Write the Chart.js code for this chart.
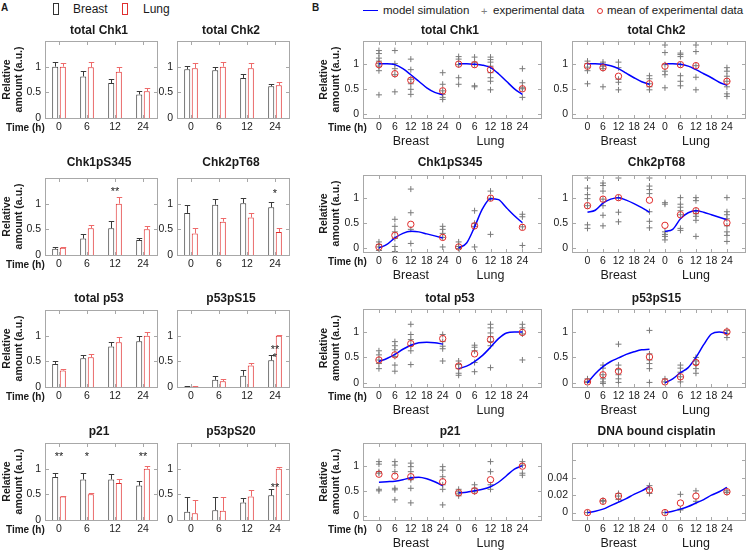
<!DOCTYPE html>
<html><head><meta charset="utf-8">
<script src="https://cdn.jsdelivr.net/npm/chart.js@4.4.0/dist/chart.umd.min.js"></script>
<style>
html,body{margin:0;padding:0;background:#fff;}
body{width:750px;height:554px;position:relative;overflow:hidden;font-family:'Liberation Sans',Arial,sans-serif;color:#1a1a1a;}
canvas{position:absolute;}
.t{position:absolute;white-space:nowrap;line-height:1;transform:translateY(-50%);}
.mk{position:absolute;box-sizing:border-box;}
</style></head><body>
<div class="t" style="left:1px;top:8px;font-weight:bold;font-size:10px;">A</div>
<div class="mk" style="left:53px;top:3px;width:6px;height:12px;border:1.5px solid #333;"></div>
<div class="t" style="left:73px;top:9px;font-size:12px;">Breast</div>
<div class="mk" style="left:122px;top:3px;width:6px;height:12px;border:1.5px solid #e03030;"></div>
<div class="t" style="left:143px;top:9px;font-size:12px;">Lung</div>
<div class="t" style="left:312px;top:8px;font-weight:bold;font-size:10px;">B</div>
<div class="mk" style="left:363px;top:10px;width:15px;height:0;border-top:1.5px solid #0000ff;"></div>
<div class="t" style="left:383px;top:11px;font-size:11.5px;">model simulation</div>
<div class="t" style="left:481px;top:11px;font-size:11px;color:#808080;">+</div>
<div class="t" style="left:493px;top:11px;font-size:11.5px;">experimental data</div>
<div class="mk" style="left:597px;top:8px;width:6px;height:6px;border:1px solid #e03030;border-radius:50%;"></div>
<div class="t" style="left:607px;top:11px;font-size:11.5px;">mean of experimental data</div>
<script>
// ================= DATA =================
// Panel A: bar charts (mean and upper error), time points
const barTimes = ['0', '6', '12', '24'];
const yTicksA = [0, 0.5, 1];
const yTickLabelsA = ['0', '0.5', '1'];

const chk1BarBreast = [1.0, 0.81, 0.68, 0.46];
const chk1BarBreastErr = [0.1, 0.11, 0.08, 0.07];
const chk1BarLung = [1.0, 0.99, 0.9, 0.52];
const chk1BarLungErr = [0.07, 0.1, 0.09, 0.07];
const chk1BarStars = ['', '', '', ''];

const chk2BarBreast = [0.95, 0.93, 0.78, 0.62];
const chk2BarBreastErr = [0.07, 0.07, 0.08, 0.04];
const chk2BarLung = [0.97, 1.0, 0.97, 0.64];
const chk2BarLungErr = [0.1, 0.09, 0.1, 0.06];
const chk2BarStars = ['', '', '', ''];

const chk1pBarBreast = [0.12, 0.32, 0.52, 0.29];
const chk1pBarBreastErr = [0.03, 0.08, 0.14, 0.05];
const chk1pBarLung = [0.14, 0.52, 1.0, 0.5];
const chk1pBarLungErr = [0.02, 0.07, 0.13, 0.07];
const chk1pBarStars = ['', '', '**', ''];

const chk2pBarBreast = [0.82, 0.98, 1.01, 0.93];
const chk2pBarBreastErr = [0.16, 0.12, 0.1, 0.1];
const chk2pBarLung = [0.42, 0.65, 0.73, 0.45];
const chk2pBarLungErr = [0.11, 0.08, 0.08, 0.08];
const chk2pBarStars = ['', '', '', '*'];

const p53BarBreast = [0.45, 0.56, 0.79, 0.89];
const p53BarBreastErr = [0.05, 0.07, 0.09, 0.11];
const p53BarLung = [0.32, 0.58, 0.87, 1.0];
const p53BarLungErr = [0.04, 0.06, 0.1, 0.08];
const p53BarStars = ['', '', '', ''];

const p53s15BarBreast = [0.01, 0.14, 0.22, 0.52];
const p53s15BarBreastErr = [0.005, 0.07, 0.12, 0.1];
const p53s15BarLung = [0.01, 0.11, 0.42, 1.0];
const p53s15BarLungErr = [0.005, 0.05, 0.05, 0.02];
const p53s15BarStars = ['', '', '', '**|*'];

const p21BarBreast = [0.84, 0.79, 0.79, 0.67];
const p21BarBreastErr = [0.08, 0.13, 0.1, 0.09];
const p21BarLung = [0.46, 0.5, 0.72, 1.0];
const p21BarLungErr = [0.01, 0.02, 0.07, 0.05];
const p21BarStars = ['**', '*', '', '**'];

const p53s20BarBreast = [0.16, 0.19, 0.34, 0.48];
const p53s20BarBreastErr = [0.29, 0.26, 0.09, 0.12];
const p53s20BarLung = [0.13, 0.18, 0.46, 1.0];
const p53s20BarLungErr = [0.26, 0.27, 0.12, 0.04];
const p53s20BarStars = ['', '', '', '**'];

// Panel B: model simulation + experimental data
const modelTimes = [0, 3, 6, 9, 12, 15, 18, 21, 24];
const sampleTimes = [0, 6, 12, 24];
const axisTimes = [0, 6, 12, 18, 24];
const yTicksB = [0, 0.5, 1];
const yTickLabelsB = ['0', '0.5', '1'];
const yTicksDNA = [0, 0.02, 0.04, 0.06];
const yTickLabelsDNA = ['0', '0.02', '0.04', ''];

const chk1ModelBreast = [1.0, 1.0, 0.98, 0.9, 0.78, 0.65, 0.52, 0.43, 0.38];
const chk1ModelLung = [1.0, 1.0, 0.99, 0.97, 0.92, 0.8, 0.65, 0.5, 0.39];
const chk1PtsBreast = [[1.26, 1.2, 1.11, 1.05, 1.0, 0.95, 0.86, 0.38], [1.26, 1.0, 0.9, 0.78, 0.44], [1.09, 0.88, 0.69, 0.6, 0.49, 0.39], [0.82, 0.59, 0.46, 0.39, 0.33, 0.29]];
const chk1PtsLung = [[1.14, 1.09, 0.98, 0.72, 0.59], [1.13, 1.03, 0.98, 0.56, 0.54], [1.13, 1.08, 1.03, 0.95, 0.82, 0.72, 0.65, 0.48], [0.9, 0.62, 0.52, 0.5, 0.33]];
const chk1MeanBreast = [0.98, 0.8, 0.67, 0.46];
const chk1MeanLung = [0.99, 0.98, 0.88, 0.5];

const chk2ModelBreast = [1.0, 1.0, 0.99, 0.96, 0.9, 0.81, 0.72, 0.64, 0.59];
const chk2ModelLung = [1.0, 1.0, 0.99, 0.95, 0.88, 0.8, 0.72, 0.63, 0.57];
const chk2PtsBreast = [[1.05, 1.0, 0.93, 0.86, 0.6], [1.03, 0.99, 0.95, 0.9, 0.54], [1.03, 0.92, 0.69, 0.63, 0.48], [0.76, 0.7, 0.6, 0.54, 0.48]];
const chk2PtsLung = [[1.37, 1.22, 0.98, 0.85, 0.78, 0.52], [1.21, 1.18, 1.14, 0.98, 0.76, 0.65, 0.56], [1.37, 1.24, 0.96, 0.73, 0.48], [0.92, 0.85, 0.75, 0.65, 0.54, 0.4, 0.35]];
const chk2MeanBreast = [0.95, 0.92, 0.75, 0.6];
const chk2MeanLung = [0.95, 0.98, 0.96, 0.65];

const chk1pModelBreast = [0.0, 0.07, 0.2, 0.29, 0.33, 0.32, 0.28, 0.24, 0.2];
const chk1pModelLung = [0.0, 0.1, 0.42, 0.78, 0.98, 0.96, 0.8, 0.64, 0.5];
const chk1pPtsBreast = [[0.12, 0.07, 0.02, -0.05], [0.57, 0.43, 0.32, 0.19, 0.03, -0.07], [1.17, 0.7, 0.37, 0.09], [0.43, 0.37, 0.29, 0.21, 0.02]];
const chk1pPtsLung = [[0.12, 0.03, -0.01], [0.74, 0.49, 0.43, 0.02], [1.13, 0.99, 0.27], [0.67, 0.62, 0.42, 0.05]];
const chk1pMeanBreast = [0.02, 0.25, 0.47, 0.21];
const chk1pMeanLung = [0.02, 0.44, 0.99, 0.41];

const chk2pModelBreast = [0.71, 0.75, 0.89, 0.97, 1.0, 0.95, 0.88, 0.8, 0.71];
const chk2pModelLung = [0.33, 0.37, 0.58, 0.7, 0.74, 0.71, 0.66, 0.61, 0.56];
const chk2pPtsBreast = [[1.39, 1.19, 1.06, 0.98, 0.84, 0.46, 0.39], [1.29, 1.24, 1.13, 0.97, 0.84, 0.65, 0.44], [1.39, 1.0, 0.71, 0.52], [1.39, 1.23, 1.16, 1.08, 0.72, 0.53, 0.4]];
const chk2pPtsLung = [[0.9, 0.87, 0.32, 0.27, 0.23, 0.16], [1.0, 0.87, 0.81, 0.74, 0.66, 0.39, 0.35], [1.0, 0.94, 0.74, 0.68, 0.63, 0.55, 0.23], [1.0, 0.72, 0.66, 0.58, 0.44, 0.32, 0.25, 0.13]];
const chk2pMeanBreast = [0.84, 0.97, 1.0, 0.95];
const chk2pMeanLung = [0.45, 0.66, 0.74, 0.5];

const p53ModelBreast = [0.42, 0.48, 0.56, 0.66, 0.74, 0.79, 0.8, 0.79, 0.76];
const p53ModelLung = [0.28, 0.33, 0.42, 0.54, 0.7, 0.87, 0.98, 1.0, 1.0];
const p53PtsBreast = [[0.63, 0.55, 0.45, 0.38, 0.28], [0.81, 0.73, 0.65, 0.52, 0.35, 0.23], [1.15, 0.95, 0.85, 0.73, 0.63, 0.36], [0.95, 0.81, 0.72, 0.67, 0.43]];
const p53PtsLung = [[0.43, 0.36, 0.28, 0.19, 0.15], [0.74, 0.7, 0.63, 0.4, 0.22], [1.15, 1.08, 0.98, 0.91, 0.81, 0.73, 0.3], [1.15, 1.08, 0.96, 0.45]];
const p53MeanBreast = [0.45, 0.55, 0.77, 0.87];
const p53MeanLung = [0.33, 0.57, 0.85, 0.99];

const p53s15ModelBreast = [0.0, 0.18, 0.32, 0.42, 0.49, 0.56, 0.61, 0.65, 0.66];
const p53s15ModelLung = [0.0, 0.08, 0.2, 0.3, 0.5, 0.75, 0.96, 1.0, 0.97];
const p53s15PtsBreast = [[0.08, 0.03, 0.01], [0.35, 0.29, 0.16, 0.08, 0.02, -0.01], [0.76, 0.35, 0.26, 0.16, 0.08, 0.01], [1.03, 0.57, 0.45, 0.38, 0.28, 0.01]];
const p53s15PtsLung = [[0.08, 0.02], [0.35, 0.29, 0.21, 0.12, 0.02], [0.5, 0.43, 0.36, 0.28, 0.19], [1.03, 0.97, 0.89]];
const p53s15MeanBreast = [0.02, 0.16, 0.23, 0.51];
const p53s15MeanLung = [0.02, 0.12, 0.4, 1.0];

const p21ModelBreast = [0.67, 0.68, 0.69, 0.72, 0.76, 0.77, 0.74, 0.68, 0.6];
const p21ModelLung = [0.46, 0.47, 0.5, 0.53, 0.58, 0.67, 0.8, 0.93, 1.0];
const p21PtsBreast = [[1.08, 1.03, 0.88, 0.85, 0.53, 0.5], [1.08, 1.01, 0.88, 0.55, 0.52, 0.32], [1.05, 0.98, 0.88, 0.75, 0.72, 0.55, 0.26], [0.98, 0.91, 0.78, 0.62, 0.53, 0.22]];
const p21PtsLung = [[0.53, 0.48, 0.44, 0.4], [0.62, 0.55, 0.48], [1.08, 0.88, 0.62, 0.53], [1.08, 1.01, 0.85, 0.81]];
const p21MeanBreast = [0.83, 0.79, 0.78, 0.68];
const p21MeanLung = [0.46, 0.5, 0.72, 0.99];

const dnaModelBreast = [0.0, 0.0015, 0.004, 0.008, 0.012, 0.016, 0.021, 0.025, 0.03];
const dnaModelLung = [0.0, 0.0015, 0.004, 0.007, 0.011, 0.015, 0.02, 0.024, 0.029];
const dnaPtsBreast = [[0.0], [0.014, 0.013], [0.022, 0.019, 0.015], [0.031, 0.027, 0.022]];
const dnaPtsLung = [[0.0], [0.021, 0.004, 0.003], [0.025, 0.013], [0.025, 0.023]];
const dnaMeanBreast = [0.0, 0.013, 0.019, 0.026];
const dnaMeanLung = [0.0, 0.011, 0.019, 0.024];

// ================= LAYOUT / STYLE =================
const FONT = "'Liberation Sans', Arial, Helvetica, sans-serif";
const TXT = '#1a1a1a';
const BOXC = '#a8a8a8';
const DARK = '#3a3a3a';
const REDB = '#e02a2a';
const REDE = '#ee6a6a';
const BLUE = '#0000ff';
const GREY = '#7a7a7a';
const LUNG_SHIFT = 30;
Chart.defaults.font.family = FONT;
Chart.defaults.color = TXT;

const colA = [{l: 45, r: 157, Ly: 45, ytitle: true, time: 6}, {l: 177, r: 289, Ly: 22, ytitle: false}];
const rowA = [{t: 41, b: 118, ty: 31}, {t: 178, b: 255, ty: 163}, {t: 310, b: 387, ty: 299}, {t: 443, b: 520, ty: 432}];
const colB = [{l: 363, r: 541, Ly: 46, ytitle: true, time: 328, Lr: 6}, {l: 572, r: 749, Ly: 36, ytitle: false, Lr: 1}];
const rowB = [{t: 41, b: 118, ty: 31}, {t: 175, b: 252, ty: 163}, {t: 309, b: 387, ty: 299}, {t: 443, b: 520, ty: 432}];

function makeCanvas(left, top, w, h) {
  const cv = document.createElement('canvas');
  cv.width = w; cv.height = h;
  cv.style.left = left + 'px'; cv.style.top = top + 'px';
  cv.style.width = w + 'px'; cv.style.height = h + 'px';
  document.body.appendChild(cv);
  return cv;
}

function extrasPlugin(sp) {
  return {
    id: 'extras',
    afterDatasetsDraw(chart) {
      if (!sp.errs) return;
      const ctx = chart.ctx, y = chart.scales.y;
      ctx.save();
      [0, 1].forEach(di => {
        const meta = chart.getDatasetMeta(di);
        ctx.strokeStyle = sp.errColors[di];
        ctx.lineWidth = 1;
        ctx.beginPath();
        meta.data.forEach((bar, i) => {
          const x = Math.round(bar.x) + 0.5;
          const yTop = Math.round(y.getPixelForValue(sp.vals[di][i] + sp.errs[di][i])) + 0.5;
          const hw = bar.width * 0.45;
          ctx.moveTo(x, bar.y); ctx.lineTo(x, yTop);
          ctx.moveTo(x - hw, yTop); ctx.lineTo(x + hw, yTop);
        });
        ctx.stroke();
      });
      ctx.restore();
    },
    afterDraw(chart) {
      const {ctx, chartArea: ca} = chart;
      const xs = chart.scales.x, ys = chart.scales.y;
      ctx.save();
      ctx.strokeStyle = BOXC; ctx.lineWidth = 1;
      ctx.strokeRect(ca.left + 0.5, ca.top + 0.5, ca.right - ca.left, ca.bottom - ca.top);
      const tl = 3;
      ctx.beginPath();
      xs.ticks.forEach((t, i) => {
        const px = Math.round(xs.getPixelForTick(i)) + 0.5;
        ctx.moveTo(px, ca.bottom); ctx.lineTo(px, ca.bottom - tl);
        ctx.moveTo(px, ca.top + 1); ctx.lineTo(px, ca.top + 1 + tl);
      });
      ys.ticks.forEach(t => {
        const py = Math.round(ys.getPixelForValue(t.value)) + 0.5;
        ctx.moveTo(ca.left + 1, py); ctx.lineTo(ca.left + 1 + tl, py);
        ctx.moveTo(ca.right, py); ctx.lineTo(ca.right - tl, py);
      });
      ctx.stroke();
      ctx.fillStyle = TXT;
      ctx.textAlign = 'center'; ctx.textBaseline = 'middle';
      ctx.font = 'bold 12px ' + FONT;
      ctx.fillText(sp.title, (ca.left + ca.right) / 2 - 2, sp.titleY - sp.top);
      if (sp.timeX !== undefined) {
        ctx.textAlign = 'left';
        ctx.font = 'bold 10px ' + FONT;
        ctx.fillText('Time (h)', sp.timeX - sp.left, ca.bottom + 10);
      }
      if (sp.groups) {
        ctx.textAlign = 'center';
        ctx.font = '12.5px ' + FONT;
        ctx.fillText('Breast', xs.getPixelForValue(12), ca.bottom + 24);
        ctx.fillText('Lung', xs.getPixelForValue(12 + LUNG_SHIFT), ca.bottom + 24);
      }
      if (sp.stars) {
        ctx.textAlign = 'center';
        ctx.font = '11px ' + FONT;
        sp.stars.forEach((s, i) => {
          if (!s) return;
          const lines = s.split('|');
          const px = xs.getPixelForValue(i);
          lines.forEach((ln, k) => {
            const py = ys.getPixelForValue(sp.starLevel) + 4 + k * 8;
            ctx.fillText(ln, px, py);
          });
        });
      }
      ctx.restore();
    }
  };
}

function yTitle(show, pad) {
  return {display: show, text: ['Relative', 'amount (a.u.)'], font: {size: 10.5, weight: 'bold', lineHeight: 1.15}, color: TXT, padding: {top: pad, bottom: 0}};
}

function barPanel(title, col, row, breast, breastErr, lung, lungErr, stars, starLevel) {
  const c = colA[col], r = rowA[row];
  const Lt = 22, Lr = 4, Lb = 20;
  const left = c.l - c.Ly, top = r.t - Lt;
  const w = c.r - c.l + c.Ly + Lr, h = r.b - r.t + Lt + Lb;
  const cv = makeCanvas(left, top, w, h);
  const sp = {title, titleY: r.ty, left, top, vals: [breast, lung], errs: [breastErr, lungErr],
    errColors: [DARK, REDE], stars, starLevel, timeX: c.time};
  const dsBase = {backgroundColor: '#ffffff', borderWidth: 1, categoryPercentage: 0.54, barPercentage: 0.8};
  new Chart(cv, {
    type: 'bar',
    data: {labels: barTimes, datasets: [
      Object.assign({label: 'Breast', data: breast, borderColor: DARK}, dsBase),
      Object.assign({label: 'Lung', data: lung, borderColor: REDB}, dsBase)
    ]},
    options: {
      responsive: false, animation: false, devicePixelRatio: 1,
      layout: {padding: {top: Lt, right: Lr, left: 0, bottom: 0}},
      plugins: {legend: {display: false}, tooltip: {enabled: false}},
      scales: {
        x: {grid: {display: false, drawTicks: false}, border: {display: false},
            ticks: {font: {size: 10.5}, color: TXT, padding: 3, maxRotation: 0, autoSkip: false},
            afterFit(s) { s.height = Lb; }},
        y: {min: 0, max: 1.5, grid: {display: false, drawTicks: false}, border: {display: false},
            afterBuildTicks(s) { s.ticks = yTicksA.map(v => ({value: v})); },
            ticks: {font: {size: 10.5}, color: TXT, padding: 4, callback: (v, i) => yTickLabelsA[i]},
            title: yTitle(c.ytitle, 1),
            afterFit(s) { s.width = c.Ly; }}
      }
    },
    plugins: [extrasPlugin(sp)]
  });
}

function linePanel(title, col, row, mB, mL, ptsB, ptsL, meanB, meanL, yMin, yMax, yTicks, yLabels) {
  const c = colB[col], r = rowB[row];
  const Lt = 22, Lr = c.Lr, Lb = 34;
  const left = c.l - c.Ly, top = r.t - Lt;
  const w = c.r - c.l + c.Ly + Lr, h = r.b - r.t + Lt + Lb;
  const cv = makeCanvas(left, top, w, h);
  const sp = {title, titleY: r.ty, left, top, groups: true, timeX: c.time};
  const xTickVals = axisTimes.concat(axisTimes.map(t => t + LUNG_SHIFT));
  const xTickLabels = axisTimes.concat(axisTimes).map(String);
  const pts = [];
  sampleTimes.forEach((t, i) => ptsB[i].forEach(v => pts.push({x: t, y: v})));
  sampleTimes.forEach((t, i) => ptsL[i].forEach(v => pts.push({x: t + LUNG_SHIFT, y: v})));
  const means = sampleTimes.map((t, i) => ({x: t, y: meanB[i]}))
    .concat(sampleTimes.map((t, i) => ({x: t + LUNG_SHIFT, y: meanL[i]})));
  const lineDs = (arr, shift) => ({data: modelTimes.map((t, i) => ({x: t + shift, y: arr[i]})), showLine: true,
    borderColor: BLUE, borderWidth: 1.5, pointRadius: 0, cubicInterpolationMode: 'monotone', order: 1, fill: false});
  new Chart(cv, {
    type: 'scatter',
    data: {datasets: [
      {data: means, pointStyle: 'circle', pointRadius: 3.2, borderColor: REDB, backgroundColor: 'rgba(0,0,0,0)', borderWidth: 1, order: 0},
      lineDs(mB, 0), lineDs(mL, LUNG_SHIFT),
      {data: pts, pointStyle: 'cross', pointRadius: 3, borderColor: GREY, borderWidth: 1, order: 2}
    ]},
    options: {
      responsive: false, animation: false, devicePixelRatio: 1,
      layout: {padding: {top: Lt, right: Lr, left: 0, bottom: 0}},
      plugins: {legend: {display: false}, tooltip: {enabled: false}},
      scales: {
        x: {type: 'linear', min: -6, max: 61, grid: {display: false, drawTicks: false}, border: {display: false},
            afterBuildTicks(s) { s.ticks = xTickVals.map(v => ({value: v})); },
            ticks: {font: {size: 10.5}, color: TXT, padding: 3, maxRotation: 0, autoSkip: false, callback: (v, i) => xTickLabels[i]},
            afterFit(s) { s.height = Lb; }},
        y: {min: yMin, max: yMax, grid: {display: false, drawTicks: false}, border: {display: false},
            afterBuildTicks(s) { s.ticks = yTicks.map(v => ({value: v})); },
            ticks: {font: {size: 10.5}, color: TXT, padding: 4, callback: (v, i) => yLabels[i]},
            title: yTitle(c.ytitle, 1),
            afterFit(s) { s.width = c.Ly; }}
      }
    },
    plugins: [extrasPlugin(sp)]
  });
}

// ================= BUILD =================
barPanel('total Chk1', 0, 0, chk1BarBreast, chk1BarBreastErr, chk1BarLung, chk1BarLungErr, chk1BarStars, 1.3);
barPanel('total Chk2', 1, 0, chk2BarBreast, chk2BarBreastErr, chk2BarLung, chk2BarLungErr, chk2BarStars, 1.3);
barPanel('Chk1pS345', 0, 1, chk1pBarBreast, chk1pBarBreastErr, chk1pBarLung, chk1pBarLungErr, chk1pBarStars, 1.3);
barPanel('Chk2pT68', 1, 1, chk2pBarBreast, chk2pBarBreastErr, chk2pBarLung, chk2pBarLungErr, chk2pBarStars, 1.27);
barPanel('total p53', 0, 2, p53BarBreast, p53BarBreastErr, p53BarLung, p53BarLungErr, p53BarStars, 1.3);
barPanel('p53pS15', 1, 2, p53s15BarBreast, p53s15BarBreastErr, p53s15BarLung, p53s15BarLungErr, p53s15BarStars, 0.8);
barPanel('p21', 0, 3, p21BarBreast, p21BarBreastErr, p21BarLung, p21BarLungErr, p21BarStars, 1.3);
barPanel('p53pS20', 1, 3, p53s20BarBreast, p53s20BarBreastErr, p53s20BarLung, p53s20BarLungErr, p53s20BarStars, 0.7);

linePanel('total Chk1', 0, 0, chk1ModelBreast, chk1ModelLung, chk1PtsBreast, chk1PtsLung, chk1MeanBreast, chk1MeanLung, -0.08, 1.45, yTicksB, yTickLabelsB);
linePanel('total Chk2', 1, 0, chk2ModelBreast, chk2ModelLung, chk2PtsBreast, chk2PtsLung, chk2MeanBreast, chk2MeanLung, -0.08, 1.45, yTicksB, yTickLabelsB);
linePanel('Chk1pS345', 0, 1, chk1pModelBreast, chk1pModelLung, chk1pPtsBreast, chk1pPtsLung, chk1pMeanBreast, chk1pMeanLung, -0.08, 1.45, yTicksB, yTickLabelsB);
linePanel('Chk2pT68', 1, 1, chk2pModelBreast, chk2pModelLung, chk2pPtsBreast, chk2pPtsLung, chk2pMeanBreast, chk2pMeanLung, -0.08, 1.45, yTicksB, yTickLabelsB);
linePanel('total p53', 0, 2, p53ModelBreast, p53ModelLung, p53PtsBreast, p53PtsLung, p53MeanBreast, p53MeanLung, -0.08, 1.45, yTicksB, yTickLabelsB);
linePanel('p53pS15', 1, 2, p53s15ModelBreast, p53s15ModelLung, p53s15PtsBreast, p53s15PtsLung, p53s15MeanBreast, p53s15MeanLung, -0.08, 1.45, yTicksB, yTickLabelsB);
linePanel('p21', 0, 3, p21ModelBreast, p21ModelLung, p21PtsBreast, p21PtsLung, p21MeanBreast, p21MeanLung, -0.08, 1.45, yTicksB, yTickLabelsB);
linePanel('DNA bound cisplatin', 1, 3, dnaModelBreast, dnaModelLung, dnaPtsBreast, dnaPtsLung, dnaMeanBreast, dnaMeanLung, -0.0085, 0.08, yTicksDNA, yTickLabelsDNA);
</script>
</body></html>
